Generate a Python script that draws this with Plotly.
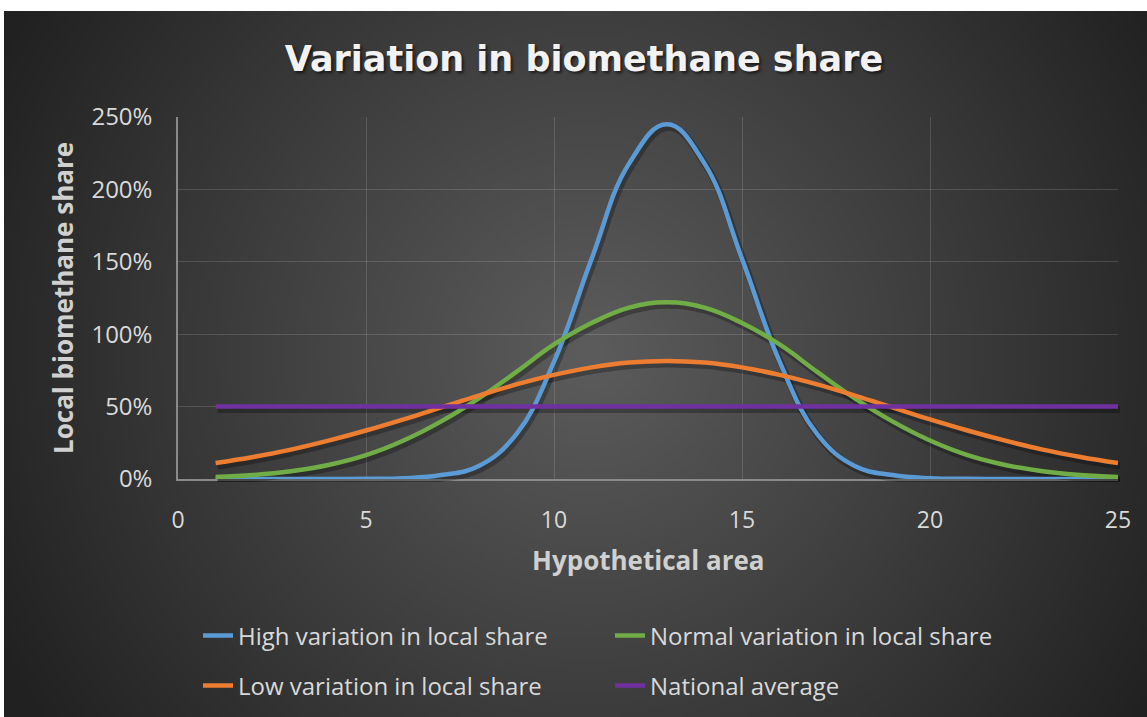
import base64
import struct
import zlib

import numpy as np
import plotly.graph_objects as go

# ---------------- data ----------------
area = list(range(1, 26))
high_variation = [0, 0, 0, 0, 0.1, 0.5, 2.7, 9.0, 31.0, 81.0, 152.0, 218.0, 245.0,
                  218.0, 152.0, 81.0, 31.0, 9.0, 2.7, 0.5, 0.1, 0, 0, 0, 0]
normal_variation = [1.4, 2.8, 5.4, 9.7, 16.5, 26.6, 39.8, 55.7, 74.0, 92.9, 107.7, 118.3, 122.0,
                    118.3, 107.7, 92.9, 74.0, 55.7, 39.8, 26.6, 16.5, 9.7, 5.4, 2.8, 1.4]
low_variation = [11.0, 15.2, 20.3, 26.5, 33.5, 41.2, 49.4, 57.6, 65.3, 71.9, 77.1, 80.4, 81.5,
                 80.4, 77.1, 71.9, 65.3, 57.6, 49.4, 41.2, 33.5, 26.5, 20.3, 15.2, 11.0]
national_average = [50] * 25

series_names = ["High variation in local share", "Normal variation in local share",
                "Low variation in local share", "National average"]
series_values = [high_variation, normal_variation, low_variation, national_average]
series_colors = ["#5B9BD5", "#70AD47", "#ED7D31", "#7030A0"]
series_legend = ["legend", "legend", "legend2", "legend2"]

x_ticks = [0, 5, 10, 15, 20, 25]
y_ticks = [0, 50, 100, 150, 200, 250]

# ---------------- geometry ----------------
W, H = 1147, 717
PL, PR, PT, PB = 178, 1118, 117, 479   # plot area in px
SX, SY = 2, 3                           # line shadow offset in px
ML, MR, MT, MB = PL, PR + SX + 1, PT, PB + SY + 1   # margin box
BG_X0, BG_Y0 = 4, 11                    # dark chart area starts here
bw_, bh_ = MR - ML, MB - MT
pw, ph = PR - PL, PB - PT


def px_to_paper_x(px):
    return (px - ML) / bw_


def px_to_paper_y(py):
    return (MB - py) / bh_


# ---------------- radial gradient background (PNG built in memory) ----------------
def make_png(arr):
    h, w, _ = arr.shape
    raw = b"".join(b"\x00" + arr[r].tobytes() for r in range(h))

    def chunk(tag, data):
        c = struct.pack(">I", len(data)) + tag + data
        return c + struct.pack(">I", zlib.crc32(tag + data) & 0xFFFFFFFF)

    return (b"\x89PNG\r\n\x1a\n"
            + chunk(b"IHDR", struct.pack(">IIBBBBB", w, h, 8, 2, 0, 0, 0))
            + chunk(b"IDAT", zlib.compress(raw, 9))
            + chunk(b"IEND", b""))


bw, bh = W - BG_X0, H - BG_Y0
sc = 4
gw, gh = bw // sc, bh // sc
yy, xx = np.mgrid[0:gh, 0:gw].astype(float)
xx = xx * sc + BG_X0
yy = yy * sc + BG_Y0
cx, cy = 585.0, 350.0
dist = np.sqrt((xx - cx) ** 2 + (yy - cy) ** 2)
rmax = np.sqrt((W - cx) ** 2 + (H - cy) ** 2) * 0.98
t = np.clip(dist / rmax, 0, 1)
c_center, c_edge = 92.0, 33.0
val = c_center + (c_edge - c_center) * t
img = np.stack([val, val, val], axis=-1).round().astype(np.uint8)
bg_uri = "data:image/png;base64," + base64.b64encode(make_png(img)).decode()

# ---------------- figure ----------------
fig = go.Figure()

# empty trace so that the main (grid / tick) axis pair is drawn
fig.add_trace(go.Scatter(x=[], y=[], xaxis="x", yaxis="y", showlegend=False,
                         hoverinfo="skip"))

SMOOTH = 1.2

# soft drop shadows of the lines (drawn on an offset, invisible axis pair)
for vals in series_values:
    fig.add_trace(go.Scatter(
        x=area, y=vals, mode="lines", xaxis="x2", yaxis="y2",
        line=dict(color="rgba(0,0,0,0.28)", width=7, shape="spline", smoothing=SMOOTH),
        showlegend=False, hoverinfo="skip",
    ))

# actual series, on an invisible axis pair identical to the main one
for name, vals, col, lg in zip(series_names, series_values, series_colors, series_legend):
    fig.add_trace(go.Scatter(
        x=area, y=vals, name=name, mode="lines", xaxis="x3", yaxis="y3",
        line=dict(color=col, width=4.5, shape="spline", smoothing=SMOOTH),
        legend=lg, hoverinfo="skip",
    ))

body_font = "'Open Sans', 'Noto Sans', sans-serif"
tick_color = "#D9D9D9"
grid_color = "rgba(255,255,255,0.14)"

main_xdom = [0, (PR - ML) / bw_]
main_ydom = [(MB - PB) / bh_, 1]
shad_xdom = [SX / bw_, (PR + SX - ML) / bw_]
shad_ydom = [(MB - PB - SY) / bh_, (MB - PT - SY) / bh_]
hidden = dict(visible=False, fixedrange=True)

fig.update_layout(
    width=W, height=H,
    margin=dict(l=ML, r=W - MR, t=MT, b=H - MB, pad=0, autoexpand=False),
    paper_bgcolor="#FFFFFF",
    plot_bgcolor="rgba(0,0,0,0)",
    font=dict(family=body_font, color=tick_color, size=23),
    title=dict(
        text="<b>Variation in biomethane share</b>",
        x=584 / W, xanchor="center", xref="container",
        y=1 - 59 / H, yanchor="middle", yref="container",
        font=dict(family="'DejaVu Sans', sans-serif", size=35, color="#F2F2F2",
                  shadow="2px 2px 3px rgba(0,0,0,0.6)"),
    ),
    xaxis=dict(
        range=[0, 25], tickvals=x_ticks, ticktext=[str(v) for v in x_ticks],
        showgrid=True, gridcolor=grid_color, gridwidth=1,
        showline=True, linecolor="#8A8A8A", linewidth=1.5,
        zeroline=False, ticks="", ticklabelstandoff=20,
        tickfont=dict(size=23, color=tick_color),
        fixedrange=True, domain=main_xdom, anchor="y", automargin=False,
    ),
    yaxis=dict(
        range=[0, 250], tickvals=y_ticks, ticktext=[f"{v}%" for v in y_ticks],
        showgrid=True, gridcolor=grid_color, gridwidth=1,
        showline=True, linecolor="#8A8A8A", linewidth=1.5,
        zeroline=False, ticks="", ticklabelstandoff=19,
        tickfont=dict(size=24, color=tick_color),
        fixedrange=True, domain=main_ydom, anchor="x", automargin=False,
    ),
    xaxis2=dict(range=[0, 25], domain=shad_xdom, anchor="y2", **hidden),
    yaxis2=dict(range=[0, 250], domain=shad_ydom, anchor="x2", **hidden),
    xaxis3=dict(range=[0, 25], domain=main_xdom, anchor="y3", **hidden),
    yaxis3=dict(range=[0, 250], domain=main_ydom, anchor="x3", **hidden),
    images=[dict(
        source=bg_uri, xref="paper", yref="paper",
        x=px_to_paper_x(BG_X0), y=px_to_paper_y(BG_Y0),
        sizex=bw / bw_, sizey=bh / bh_,
        xanchor="left", yanchor="top", sizing="stretch", layer="below",
    )],
    legend=dict(
        orientation="h", x=px_to_paper_x(198), xanchor="left",
        y=px_to_paper_y(636), yanchor="middle",
        bgcolor="rgba(0,0,0,0)", font=dict(size=24, color=tick_color),
        entrywidth=367, entrywidthmode="pixels", itemclick=False, itemdoubleclick=False,
    ),
    legend2=dict(
        orientation="h", x=px_to_paper_x(198), xanchor="left",
        y=px_to_paper_y(686), yanchor="middle",
        bgcolor="rgba(0,0,0,0)", font=dict(size=24, color=tick_color),
        entrywidth=367, entrywidthmode="pixels", itemclick=False, itemdoubleclick=False,
    ),
    annotations=[
        dict(text="<b>Hypothetical area</b>", xref="paper", yref="paper",
             x=px_to_paper_x(648), y=px_to_paper_y(560), xanchor="center", yanchor="middle",
             showarrow=False, font=dict(size=26, color="#D0D0D0")),
        dict(text="<b>Local biomethane share</b>", xref="paper", yref="paper",
             x=px_to_paper_x(63), y=px_to_paper_y(298), xanchor="center", yanchor="middle",
             textangle=-90, showarrow=False, font=dict(size=26, color="#D0D0D0")),
    ],
    showlegend=True,
)

fig.write_html("out.html", config={"displayModeBar": False})
